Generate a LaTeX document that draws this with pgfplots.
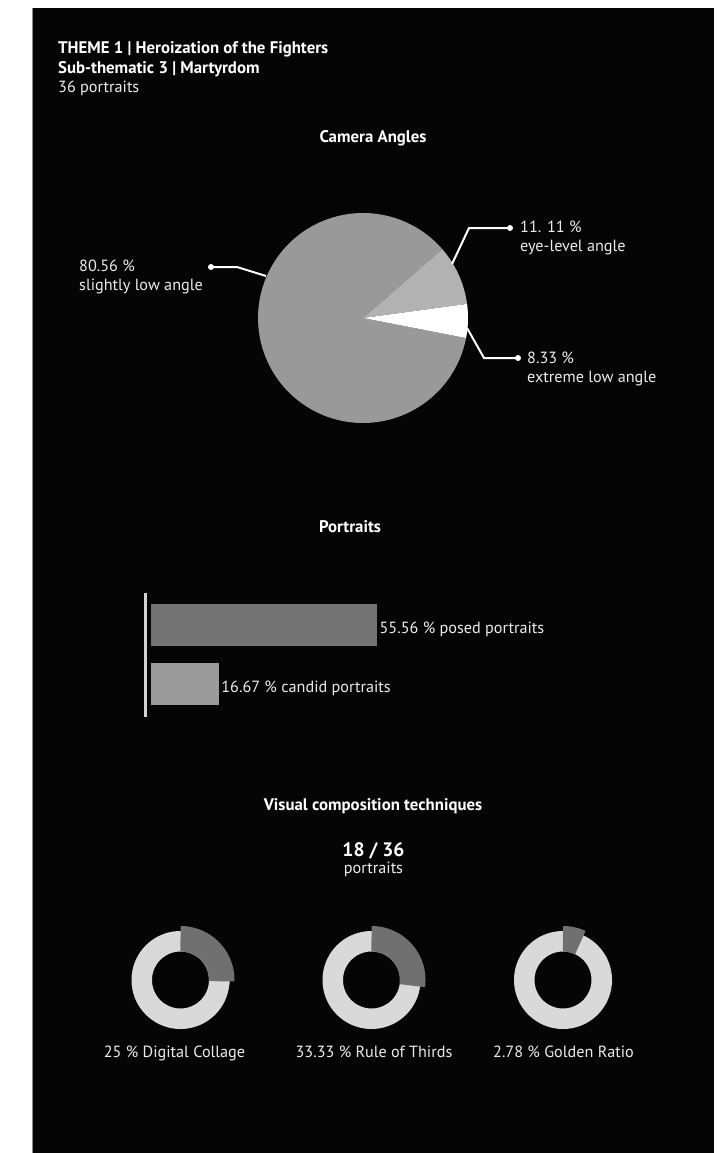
\documentclass[border=0pt]{standalone}
\usepackage{pgfplots}
\pgfplotsset{compat=1.18}
\usepackage{fontspec}
\setmainfont{PT Sans}
\definecolor{bg}{RGB}{5,5,5}
\definecolor{txt}{RGB}{236,236,236}
\definecolor{pieMain}{RGB}{153,153,153}
\definecolor{pieEye}{RGB}{178,178,178}
\definecolor{pieExt}{RGB}{255,255,255}
\definecolor{barA}{RGB}{115,115,115}
\definecolor{barB}{RGB}{155,155,155}
\definecolor{baseLine}{RGB}{210,210,210}
\definecolor{ringC}{RGB}{217,217,217}
\definecolor{ringD}{RGB}{112,112,112}
\newcommand{\reg}{\fontsize{16.2}{19}\selectfont}
\newcommand{\bld}{\fontsize{16.8}{19}\selectfont\bfseries}
% ---- data (shares in %, as drawn) ----
% pie: extreme low, eye-level, slightly low (start angle of first slice: -11 deg)
\def\pieStart{-11}
\def\pieExt{5.2}
\def\pieEye{9.25}
\def\pieLow{85.55}
% donuts: drawn share of each ring
\def\dA{25.5}
\def\dB{27.2}
\def\dC{6.9}
\pgfmathsetmacro\aA{\pieStart}
\pgfmathsetmacro\aB{\aA+3.6*\pieExt}
\pgfmathsetmacro\aC{\aB+3.6*\pieEye}
\pgfmathsetmacro\aD{\aC+3.6*\pieLow}
\pgfmathsetmacro\eA{90-3.6*\dA}
\pgfmathsetmacro\eB{90-3.6*\dB}
\pgfmathsetmacro\eC{90-3.6*\dC}
\begin{document}
\begin{tikzpicture}[x=1pt,y=1pt]
\useasboundingbox (0,0) rectangle (717,1153);
\fill[white] (0,0) rectangle (717,1153);
\fill[bg] (33,0) rectangle (714,1145);
\draw[black!45, line width=0.8pt] (32.6,0) -- (32.6,1145);
\begin{axis}[at={(0pt,0pt)}, anchor=south west, width=717pt, height=1153pt,
  scale only axis, xmin=0, xmax=717, ymin=0, ymax=1153, y dir=reverse,
  hide axis, clip=false]
% title block
\node[anchor=base west, text=white, inner sep=0] at (axis cs:58,54) {\bld THEME 1 | Heroization of the Fighters};
\node[anchor=base west, text=white, inner sep=0] at (axis cs:58,73.5) {\bld Sub-thematic 3 | Martyrdom};
\node[anchor=base west, text=txt, inner sep=0] at (axis cs:58,93) {\reg 36 portraits};
% pie
\node[anchor=base, text=white, inner sep=0] at (axis cs:373,142.5) {\bld Camera Angles};
\addplot[fill=pieMain, draw=none, domain=\aC:\aD, samples=120, variable=\t]
  ({363+105*cos(\t)},{318-105*sin(\t)}) -- (axis cs:363,318) -- cycle;
\addplot[fill=pieEye, draw=none, domain=\aB:\aC, samples=30, variable=\t]
  ({363+105*cos(\t)},{318-105*sin(\t)}) -- (axis cs:363,318) -- cycle;
\addplot[fill=pieExt, draw=none, domain=\aA:\aB, samples=30, variable=\t]
  ({363+105*cos(\t)},{318-105*sin(\t)}) -- (axis cs:363,318) -- cycle;
% leaders
\draw[white, line width=2pt] (axis cs:211,267) -- (axis cs:237,267) -- (axis cs:266,276);
\fill[white] (axis cs:211,267) circle[radius=3pt];
\draw[white, line width=2pt] (axis cs:510,228) -- (axis cs:469,228) -- (axis cs:452,264);
\fill[white] (axis cs:510,228) circle[radius=3pt];
\draw[white, line width=2pt] (axis cs:518,358) -- (axis cs:484,358) -- (axis cs:467,328);
\fill[white] (axis cs:518,358) circle[radius=3pt];
\node[anchor=base west, text=txt, inner sep=0] at (axis cs:79,271.5) {\reg 80.56 \%};
\node[anchor=base west, text=txt, inner sep=0] at (axis cs:79,290) {\reg slightly low angle};
\node[anchor=base west, text=txt, inner sep=0] at (axis cs:520,233) {\reg 11. 11 \%};
\node[anchor=base west, text=txt, inner sep=0] at (axis cs:520,251) {\reg eye-level angle};
\node[anchor=base west, text=txt, inner sep=0] at (axis cs:527,363) {\reg 8.33 \%};
\node[anchor=base west, text=txt, inner sep=0] at (axis cs:527,382) {\reg extreme low angle};
% portraits
\node[anchor=base, text=white, inner sep=0] at (axis cs:350,532) {\bld Portraits};
\draw[baseLine, line width=2.6pt] (axis cs:145.5,593) -- (axis cs:145.5,717);
% visual composition
\node[anchor=base, text=white, inner sep=0] at (axis cs:373,810) {\bld Visual composition techniques};
\node[anchor=base, text=white, inner sep=0] at (axis cs:373.5,856) {\fontsize{19.5}{21}\selectfont\bfseries 18 / 36};
\node[anchor=base, text=txt, inner sep=0] at (axis cs:373.5,873) {\reg portraits};
% donuts
\addplot[draw=ringC, line width=20.5pt, domain=0:360, samples=120, variable=\t]
  ({180.5+38.75*cos(\t)},{980-38.75*sin(\t)}) -- cycle;
\addplot[draw=ringD, line width=25.5pt, domain=\eA:90, samples=50, variable=\t]
  ({180.5+41.25*cos(\t)},{980-41.25*sin(\t)});
\addplot[draw=ringC, line width=20.5pt, domain=0:360, samples=120, variable=\t]
  ({371.5+38.75*cos(\t)},{980-38.75*sin(\t)}) -- cycle;
\addplot[draw=ringD, line width=25.5pt, domain=\eB:90, samples=50, variable=\t]
  ({371.5+41.25*cos(\t)},{980-41.25*sin(\t)});
\addplot[draw=ringC, line width=20.5pt, domain=0:360, samples=120, variable=\t]
  ({563+38.75*cos(\t)},{980-38.75*sin(\t)}) -- cycle;
\addplot[draw=ringD, line width=25.5pt, domain=\eC:90, samples=20, variable=\t]
  ({563+41.25*cos(\t)},{980-41.25*sin(\t)});
\node[anchor=base, text=txt, inner sep=0] at (axis cs:174.5,1057) {\reg 25 \% Digital Collage};
\node[anchor=base, text=txt, inner sep=0] at (axis cs:374,1057) {\reg 33.33 \% Rule of Thirds};
\node[anchor=base, text=txt, inner sep=0] at (axis cs:563.5,1057) {\reg 2.78 \% Golden Ratio};
\end{axis}
% bar chart
\begin{axis}[at={(151pt,436pt)}, anchor=south west, width=407pt, height=124pt,
  scale only axis, xmin=0, xmax=100, ymin=593, ymax=717, y dir=reverse,
  hide axis, clip=false, xbar, bar width=41.5, bar shift=0pt,
  nodes near coords, point meta=explicit symbolic,
  every node near coord/.append style={anchor=base west, yshift=-8.5pt, xshift=-1pt, text=txt, font=\reg}]
\addplot[fill=barA, draw=none] coordinates {(55.56,624.8) [55.56 \% posed portraits]};
\addplot[fill=barB, draw=none] coordinates {(16.67,684.2) [16.67 \% candid portraits]};
\end{axis}
\end{tikzpicture}
\end{document}
